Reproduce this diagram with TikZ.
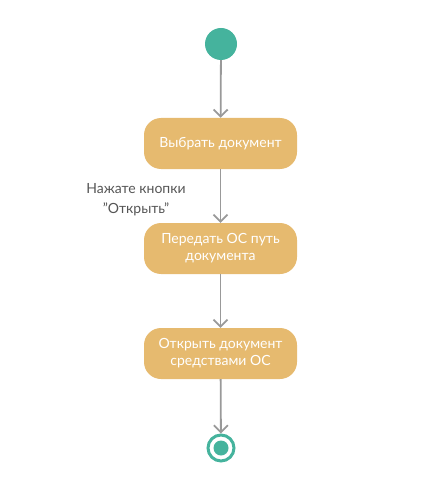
\documentclass[tikz,border=0pt]{standalone}
\usepackage{fontspec}
\setmainfont{Lato}
\usetikzlibrary{arrows.meta}
\definecolor{boxfill}{HTML}{E6BA6F}
\definecolor{nodegreen}{HTML}{45B39D}
\definecolor{linegray}{HTML}{999999}
\definecolor{labelgray}{HTML}{555555}
\tikzset{
  actbox/.style={draw=none, fill=boxfill, rounded corners=17pt, minimum width=153pt, minimum height=51pt, text=white, align=center, font=\fontsize{14}{17}\selectfont, inner sep=0pt},
  flow/.style={draw=linegray, line width=1.8pt, -{Straight Barb[length=7pt,width=14pt,line width=1.8pt]}},
  startnode/.style={circle, fill=nodegreen, minimum size=32pt, inner sep=0pt},
  endring/.style={circle, draw=nodegreen, line width=3pt, fill=white, minimum size=26pt, inner sep=0pt},
  enddot/.style={circle, fill=nodegreen, minimum size=15pt, inner sep=0pt},
  lbl/.style={text=labelgray, align=center, font=\fontsize{14}{20}\selectfont}
}
\begin{document}
\begin{tikzpicture}[x=1pt,y=-1pt]
\useasboundingbox (0,0) rectangle (437,481);
\node[startnode] (start) at (221,44) {};
\node[actbox] (b1) at (220.5,143.5) {Выбрать документ};
\node[actbox] (b2) at (220.5,248.5) {Передать ОС путь\\документа};
\node[actbox] (b3) at (220.5,353.5) {Открыть документ\\средствами ОС};
\node[endring] (fin) at (221,448) {};
\node[enddot] (findot) at (221,448) {};
\node[lbl] (lab) at (136,200) {Нажате кнопки\\\symbol{34}Открыть\symbol{34}};
\draw[flow] (start) -- (b1);
\draw[flow] (b1) -- (b2);
\draw[flow] (b2) -- (b3);
\draw[flow] (b3) -- (fin);
\end{tikzpicture}
\end{document}
